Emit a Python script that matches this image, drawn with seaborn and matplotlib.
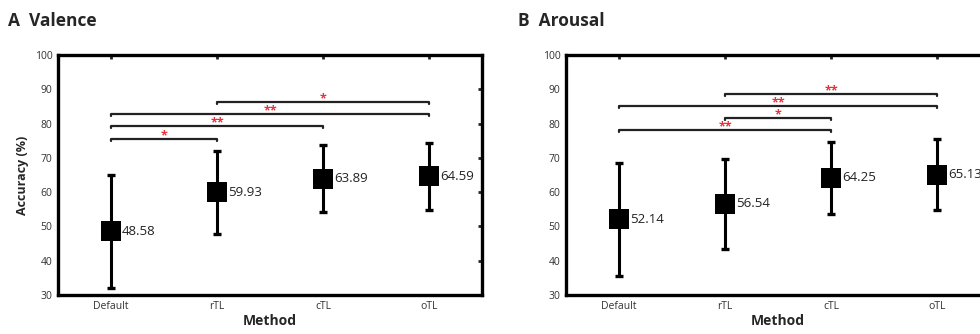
import numpy as np
import pandas as pd
import seaborn as sns
import matplotlib.pyplot as plt

# Data
methods = ["Default", "rTL", "cTL", "oTL"]

valence_mean = [48.58, 59.93, 63.89, 64.59]
valence_sd = [16.5, 12.2, 9.8, 9.7]
arousal_mean = [52.14, 56.54, 64.25, 65.13]
arousal_sd = [16.5, 13.2, 10.5, 10.4]

# significance brackets: (from, to), height, stars
valence_pairs = [("Default", "rTL"), ("Default", "cTL"), ("Default", "oTL"), ("rTL", "oTL")]
valence_sig_y = [75.6, 79.2, 82.7, 86.2]
valence_sig = ["*", "**", "**", "*"]

arousal_pairs = [("Default", "cTL"), ("rTL", "cTL"), ("Default", "oTL"), ("rTL", "oTL")]
arousal_sig_y = [78.2, 81.7, 85.2, 88.6]
arousal_sig = ["**", "*", "**", "**"]

sns.set_style("white")
plt.rcParams['font.family'] = ['Open Sans', 'DejaVu Sans']

fig = plt.figure(figsize=(9.8, 3.34), dpi=100)
ax1 = fig.add_axes([0.0592, 0.1168, 0.4327, 0.7186])
ax2 = fig.add_axes([0.5776, 0.1168, 0.4327, 0.7186])


def draw_panel(ax, means, sds, pairs, sig_y, sig, title, ylabel, title_x):
    df = pd.DataFrame({"method": methods, "acc": means, "sd": sds})
    ax.errorbar(df["method"], df["acc"], yerr=df["sd"], fmt="none",
                ecolor="black", elinewidth=2.2, capsize=3, capthick=2.4, zorder=2)
    sns.scatterplot(data=df, x="method", y="acc", marker="s", s=210,
                    color="black", edgecolor="black", linewidth=0, ax=ax, zorder=3)
    for i, row in df.iterrows():
        ax.annotate(f"{row['acc']:.2f}", (i, row["acc"]), xytext=(8, 0),
                    textcoords="offset points", va="center", ha="left",
                    fontsize=9.5, color="#222222")

    idx = {m: i for i, m in enumerate(methods)}
    for (a, b), y, s in zip(pairs, sig_y, sig):
        xa, xb = idx[a], idx[b]
        ax.plot([xa, xa, xb, xb], [y - 0.6, y, y, y - 0.6], color="#222222", lw=1.6, zorder=1)
        ax.text((xa + xb) / 2, y + 0.9, s, color="#e8303a", ha="center", va="center",
                fontsize=9, fontweight="bold")

    ax.set_xlim(-0.5, 3.5)
    ax.set_ylim(30, 100)
    ax.set_yticks(np.arange(30, 101, 10))
    ax.set_xlabel("Method", fontsize=10, fontweight="bold", labelpad=2)
    ax.set_ylabel(ylabel, fontsize=9, fontweight="bold", labelpad=4)
    ax.tick_params(direction="in", length=3, width=2, labelsize=7.5, labelcolor="#333333",
                   top=True, right=True, pad=4)
    for sp in ax.spines.values():
        sp.set_visible(True)
        sp.set_linewidth(2.4)
        sp.set_color("black")
    ax.text(title_x, 1.14, title, transform=ax.transAxes,
            fontsize=12.5, fontweight="bold", ha="left", va="center")


draw_panel(ax1, valence_mean, valence_sd, valence_pairs, valence_sig_y, valence_sig,
           "A  Valence", "Accuracy (%)", -0.118)
draw_panel(ax2, arousal_mean, arousal_sd, arousal_pairs, arousal_sig_y, arousal_sig,
           "B  Arousal", "", -0.113)

fig.savefig("out.png", dpi=100)
